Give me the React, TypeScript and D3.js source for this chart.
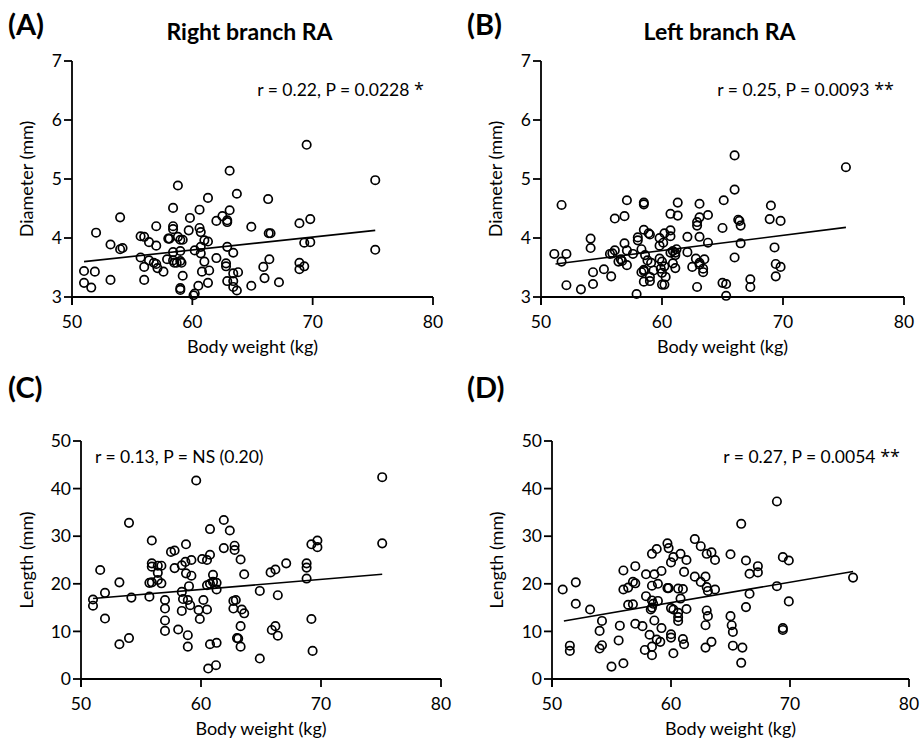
import * as d3 from "d3";

const X_TICKS = [50, 60, 70, 80];
const DIAM_TICKS = [3, 4, 5, 6, 7];
const LEN_TICKS = [0, 10, 20, 30, 40, 50];

// body weight (kg), diameter (mm) — right branch
const A_POINTS: [number, number][] = [
  [63.1, 5.14], [58.8, 4.89], [61.3, 4.68], [63.7, 4.75], [66.3, 4.66], [58.4, 4.51], [60.6, 4.48],
  [63.1, 4.47], [54.0, 4.35], [59.8, 4.34], [62.5, 4.37], [62.9, 4.30], [62.9, 4.27], [62.0, 4.29],
  [57.0, 4.20], [58.4, 4.20], [58.4, 4.15], [59.7, 4.13], [60.6, 4.17], [60.7, 4.10], [64.9, 4.19],
  [52.0, 4.09], [55.7, 4.03], [56.0, 4.02], [56.4, 3.93], [57.0, 3.87], [58.0, 3.99], [58.1, 3.99],
  [58.8, 4.02], [59.0, 3.97], [59.2, 3.97], [61.0, 3.96], [61.3, 3.94], [53.2, 3.89], [54.0, 3.81],
  [54.2, 3.83], [62.9, 3.85], [63.4, 3.75], [58.4, 3.76], [59.0, 3.78], [60.2, 3.79], [60.7, 3.85],
  [60.7, 3.74], [55.7, 3.67], [56.4, 3.62], [56.8, 3.58], [57.0, 3.56], [57.9, 3.64], [58.4, 3.62],
  [58.5, 3.58], [59.0, 3.61], [59.1, 3.58], [58.7, 3.58], [61.0, 3.60], [62.0, 3.66], [62.8, 3.57],
  [62.8, 3.52], [51.0, 3.44], [51.9, 3.43], [56.0, 3.51], [57.1, 3.49], [57.6, 3.43], [60.8, 3.43],
  [61.4, 3.45], [63.4, 3.40], [63.8, 3.42], [65.9, 3.51], [66.4, 3.64], [66.35, 4.08], [66.5, 4.08],
  [51.0, 3.24], [51.6, 3.16], [53.2, 3.29], [56.0, 3.29], [59.2, 3.36], [59.0, 3.15], [59.0, 3.12],
  [60.5, 3.19], [61.3, 3.24], [62.9, 3.27], [63.4, 3.27], [63.4, 3.17], [63.7, 3.11], [64.9, 3.19],
  [66.0, 3.32], [60.1, 3.03], [60.2, 3.06], [69.5, 5.58], [75.2, 4.98], [68.9, 4.25], [69.8, 4.32],
  [69.3, 3.92], [69.8, 3.93], [75.2, 3.80], [68.9, 3.58], [68.9, 3.47], [69.3, 3.52], [67.2, 3.25],
];

// body weight (kg), diameter (mm) — left branch
const B_POINTS: [number, number][] = [
  [51.7, 4.56], [57.1, 4.64], [58.5, 4.60], [58.5, 4.57], [61.3, 4.60], [63.1, 4.58], [65.1, 4.64],
  [56.1, 4.33], [56.9, 4.37], [60.7, 4.41], [61.3, 4.38], [63.1, 4.35], [62.9, 4.27], [62.9, 4.21],
  [63.8, 4.39], [65.0, 4.17], [58.5, 4.14], [58.9, 4.08], [59.0, 4.06], [58.0, 4.01], [58.0, 3.96],
  [56.9, 3.91], [59.8, 4.00], [60.2, 4.08], [60.7, 4.13], [60.7, 4.03], [60.1, 3.92], [59.8, 3.87],
  [62.1, 4.02], [63.1, 4.02], [63.8, 3.92], [54.1, 3.99], [54.1, 3.83], [56.1, 3.79], [55.7, 3.73],
  [55.9, 3.74], [57.1, 3.79], [57.6, 3.73], [58.3, 3.81], [51.1, 3.73], [52.1, 3.73], [51.7, 3.60],
  [56.6, 3.64], [56.4, 3.60], [56.7, 3.61], [57.1, 3.54], [58.6, 3.71], [58.8, 3.62], [59.1, 3.58],
  [59.8, 3.65], [60.0, 3.60], [60.9, 3.78], [61.1, 3.75], [61.2, 3.81], [60.7, 3.75], [61.1, 3.71],
  [62.1, 3.76], [62.8, 3.65], [63.1, 3.58], [63.5, 3.64], [60.9, 3.57], [61.1, 3.49], [62.5, 3.51],
  [63.1, 3.55], [63.4, 3.48], [63.4, 3.42], [59.3, 3.45], [59.9, 3.48], [60.2, 3.52], [60.0, 3.41],
  [60.3, 3.34], [58.5, 3.46], [58.3, 3.42], [58.5, 3.44], [59.0, 3.34], [59.0, 3.27], [58.5, 3.26],
  [54.3, 3.42], [55.2, 3.47], [55.8, 3.35], [52.1, 3.20], [53.3, 3.13], [54.3, 3.22], [60.0, 3.21],
  [60.2, 3.21], [62.9, 3.17], [57.9, 3.05], [66.0, 5.40], [66.0, 4.82], [66.3, 4.31], [66.4, 4.29],
  [66.5, 4.21], [69.0, 4.55], [68.9, 4.32], [69.8, 4.29], [75.2, 5.20], [66.5, 3.91], [69.3, 3.84],
  [66.0, 3.67], [69.4, 3.56], [69.8, 3.51], [69.4, 3.35], [67.3, 3.30], [67.3, 3.17], [65.0, 3.24],
  [65.3, 3.22], [65.3, 3.02],
];

// body weight (kg), length (mm) — right branch
const C_POINTS: [number, number][] = [
  [59.6, 41.7], [54.0, 32.8], [61.9, 33.4], [60.75, 31.5], [62.4, 31.2], [55.9, 29.1], [58.75, 28.3],
  [62.8, 28.0], [62.8, 27.1], [61.9, 27.5], [57.5, 26.7], [57.8, 27.0], [51.6, 22.9], [55.9, 24.3],
  [55.9, 23.6], [56.4, 23.8], [56.7, 23.8], [56.4, 22.3], [57.8, 23.3], [58.4, 23.9], [58.7, 24.6],
  [59.2, 25.0], [58.75, 22.2], [59.2, 21.7], [60.1, 25.2], [60.5, 25.0], [60.75, 26.1], [63.3, 25.1],
  [63.6, 22.0], [61.0, 21.9], [53.2, 20.3], [55.7, 20.2], [55.9, 20.3], [56.4, 20.8], [56.7, 20.1],
  [59.0, 19.5], [60.5, 19.7], [60.75, 20.0], [61.0, 20.4], [61.3, 20.2], [61.3, 18.8], [51.0, 16.7],
  [51.0, 15.4], [52.0, 18.1], [54.2, 17.1], [55.7, 17.3], [58.4, 18.3], [58.5, 16.8], [58.9, 16.6],
  [59.1, 15.5], [60.2, 16.6], [59.8, 14.5], [60.5, 14.6], [62.7, 16.4], [62.9, 16.6], [62.7, 14.8],
  [63.4, 14.6], [63.6, 13.8], [64.9, 18.5], [52.0, 12.7], [57.0, 16.6], [57.0, 14.8], [58.4, 14.3],
  [59.9, 12.6], [57.0, 12.3], [57.0, 10.1], [58.1, 10.4], [58.9, 9.2], [63.3, 11.1], [53.2, 7.3],
  [54.0, 8.6], [58.9, 6.8], [60.75, 7.3], [61.3, 7.6], [63.0, 8.6], [63.1, 8.5], [63.3, 6.8],
  [64.9, 4.3], [60.6, 2.2], [61.25, 2.9], [75.1, 42.4], [75.1, 28.5], [69.2, 28.3], [69.7, 29.1],
  [69.7, 27.7], [67.1, 24.3], [66.2, 23.0], [65.8, 22.4], [68.8, 24.3], [68.8, 23.4], [68.8, 21.1],
  [66.4, 17.6], [69.2, 12.6], [65.9, 10.3], [66.2, 11.1], [66.4, 9.1], [69.3, 5.9],
];

// body weight (kg), length (mm) — left branch
const D_POINTS: [number, number][] = [
  [62.0, 29.4], [62.5, 27.9], [59.7, 28.5], [59.8, 27.5], [58.8, 27.3], [58.4, 26.3], [60.2, 25.6],
  [60.0, 24.5], [60.8, 26.3], [61.3, 25.0], [63.0, 26.3], [63.4, 26.6], [63.7, 25.0], [65.0, 26.2],
  [56.0, 22.8], [57.0, 23.7], [57.9, 22.0], [58.6, 22.0], [59.2, 22.7], [61.1, 22.5], [62.0, 21.5],
  [62.9, 21.5], [62.5, 20.4], [63.0, 19.3], [63.1, 18.5], [63.7, 18.8], [50.9, 18.8], [52.0, 20.3],
  [56.0, 18.8], [56.4, 19.2], [56.8, 20.4], [57.0, 20.1], [58.4, 19.6], [58.9, 20.0], [59.7, 19.1],
  [59.8, 19.1], [60.6, 19.0], [61.0, 18.9], [57.9, 17.4], [58.4, 16.5], [58.9, 16.4], [58.5, 15.8],
  [56.4, 15.6], [56.8, 15.7], [60.8, 16.9], [52.0, 15.8], [53.2, 14.6], [58.3, 14.6], [58.4, 15.0],
  [60.0, 14.9], [60.2, 14.6], [61.3, 14.7], [60.6, 13.9], [60.6, 13.0], [60.6, 12.2], [63.0, 14.4],
  [63.1, 13.2], [62.9, 11.3], [65.0, 13.2], [65.1, 11.3], [65.2, 9.9], [54.2, 12.2], [54.0, 10.1],
  [55.7, 11.2], [57.0, 11.6], [57.6, 11.1], [58.6, 12.3], [59.2, 10.7], [58.2, 9.3], [60.0, 9.4],
  [60.0, 8.7], [55.6, 8.1], [54.2, 7.1], [54.0, 6.4], [57.8, 6.1], [58.4, 6.8], [58.4, 5.0],
  [58.8, 8.3], [59.1, 7.8], [61.0, 8.4], [61.1, 7.3], [62.9, 6.6], [63.4, 7.8], [65.2, 7.0],
  [51.5, 7.0], [51.5, 5.9], [60.2, 5.4], [55.0, 2.6], [56.0, 3.3], [68.9, 37.3], [65.9, 32.6],
  [66.3, 24.9], [67.3, 23.7], [67.3, 22.4], [66.6, 22.1], [69.4, 25.6], [69.9, 24.9], [75.3, 21.3],
  [68.9, 19.5], [66.6, 17.9], [66.3, 15.1], [69.9, 16.3], [69.4, 10.7], [69.4, 10.3], [66.0, 6.6],
  [65.9, 3.4],
];

// regression line end points [x, y]
const A_FIT: [number, number][] = [[51.0, 3.6], [75.2, 4.13]];
const B_FIT: [number, number][] = [[51.2, 3.56], [75.2, 4.18]];
const C_FIT: [number, number][] = [[51.0, 16.9], [75.1, 22.0]];
const D_FIT: [number, number][] = [[51.0, 12.2], [75.3, 22.6]];

// stat text, split into the text and its significance stars
const STATS = ["r = 0.22, P = 0.0228", "r = 0.25, P = 0.0093", "r = 0.13, P = NS (0.20)", "r = 0.27, P = 0.0054"];
const STARS = ["*", "**", "", "**"];

const FONT = "Lato, 'Open Sans', sans-serif";

const PANELS = [
  {
    tag: "(A)", title: "Right branch RA", points: A_POINTS, fit: A_FIT, stat: STATS[0], stars: STARS[0],
    yLabel: "Diameter (mm)", yDomain: [3, 7], yTicks: DIAM_TICKS,
    x0: 72, x1: 433, y0: 61, y1: 297, tagX: 8, tagY: 35, yLabelX: 27,
    statX: 424, statY: 96, statAnchor: "end",
  },
  {
    tag: "(B)", title: "Left branch RA", points: B_POINTS, fit: B_FIT, stat: STATS[1], stars: STARS[1],
    yLabel: "Diameter (mm)", yDomain: [3, 7], yTicks: DIAM_TICKS,
    x0: 541, x1: 904, y0: 61, y1: 297, tagX: 467, tagY: 35, yLabelX: 496,
    statX: 894, statY: 96, statAnchor: "end",
  },
  {
    tag: "(C)", title: "", points: C_POINTS, fit: C_FIT, stat: STATS[2], stars: STARS[2],
    yLabel: "Length (mm)", yDomain: [0, 50], yTicks: LEN_TICKS,
    x0: 81, x1: 441, y0: 441, y1: 679, tagX: 8, tagY: 398, yLabelX: 27,
    statX: 95, statY: 463, statAnchor: "start",
  },
  {
    tag: "(D)", title: "", points: D_POINTS, fit: D_FIT, stat: STATS[3], stars: STARS[3],
    yLabel: "Length (mm)", yDomain: [0, 50], yTicks: LEN_TICKS,
    x0: 552, x1: 909, y0: 441, y1: 679, tagX: 467, tagY: 398, yLabelX: 497,
    statX: 900, statY: 463, statAnchor: "end",
  },
];

function Panel({ p }: { p: (typeof PANELS)[number] }) {
  const x = d3.scaleLinear().domain([50, 80]).range([p.x0, p.x1]);
  const y = d3.scaleLinear().domain(p.yDomain).range([p.y1, p.y0]);
  const line = d3.line<[number, number]>().x((d) => x(d[0])).y((d) => y(d[1]));
  const tick = 8;
  const midX = (p.x0 + p.x1) / 2;
  const midY = (p.y0 + p.y1) / 2;

  return (
    <g fontFamily={FONT} fill="#000">
      <text x={p.tagX} y={p.tagY} fontSize={29} fontWeight="bold">{p.tag}</text>
      {p.title && (
        <text x={midX - 3} y={40} fontSize={23} fontWeight="bold" textAnchor="middle">{p.title}</text>
      )}

      {/* axes */}
      <line x1={p.x0} x2={p.x0} y1={p.y0} y2={p.y1 + tick} stroke="#000" strokeWidth={1.8} />
      <line x1={p.x0} x2={p.x1} y1={p.y1} y2={p.y1} stroke="#000" strokeWidth={1.8} />
      {p.yTicks.map((t) => (
        <g key={`y${t}`}>
          <line x1={p.x0 - tick} x2={p.x0} y1={y(t)} y2={y(t)} stroke="#000" strokeWidth={1.8} />
          <text x={p.x0 - tick - 2} y={y(t)} dy="0.35em" fontSize={17.5} textAnchor="end">{t}</text>
        </g>
      ))}
      {X_TICKS.map((t) => (
        <g key={`x${t}`}>
          <line x1={x(t)} x2={x(t)} y1={p.y1} y2={p.y1 + tick} stroke="#000" strokeWidth={1.8} />
          <text x={x(t)} y={p.y1 + 31} fontSize={17.5} textAnchor="middle">{t}</text>
        </g>
      ))}
      <text x={midX} y={p.y1 + 56} fontSize={18} textAnchor="middle">Body weight (kg)</text>
      <text
        transform={`translate(${p.yLabelX + 6},${midY}) rotate(-90)`}
        fontSize={18}
        textAnchor="middle"
      >
        {p.yLabel}
      </text>

      {/* points */}
      {p.points.map((d, i) => (
        <circle key={i} cx={x(d[0])} cy={y(d[1])} r={4.2} fill="none" stroke="#000" strokeWidth={1.7} />
      ))}

      {/* fit line */}
      <path d={line(p.fit) ?? ""} fill="none" stroke="#000" strokeWidth={1.6} />

      <text x={p.statX} y={p.statY} fontSize={17.5} textAnchor={p.statAnchor}>
        {p.stat}
        {p.stars && (
          <tspan fontFamily="'Open Sans', sans-serif" fontSize={18}>{" " + p.stars}</tspan>
        )}
      </text>
    </g>
  );
}

export default function App() {
  return (
    <svg
      width={922}
      height={742}
      viewBox="0 0 922 742"
      style={{ position: "absolute", left: 0, top: 0, background: "#fff" }}
    >
      <rect width={922} height={742} fill="#fff" />
      {PANELS.map((p) => (
        <Panel key={p.tag} p={p} />
      ))}
    </svg>
  );
}
